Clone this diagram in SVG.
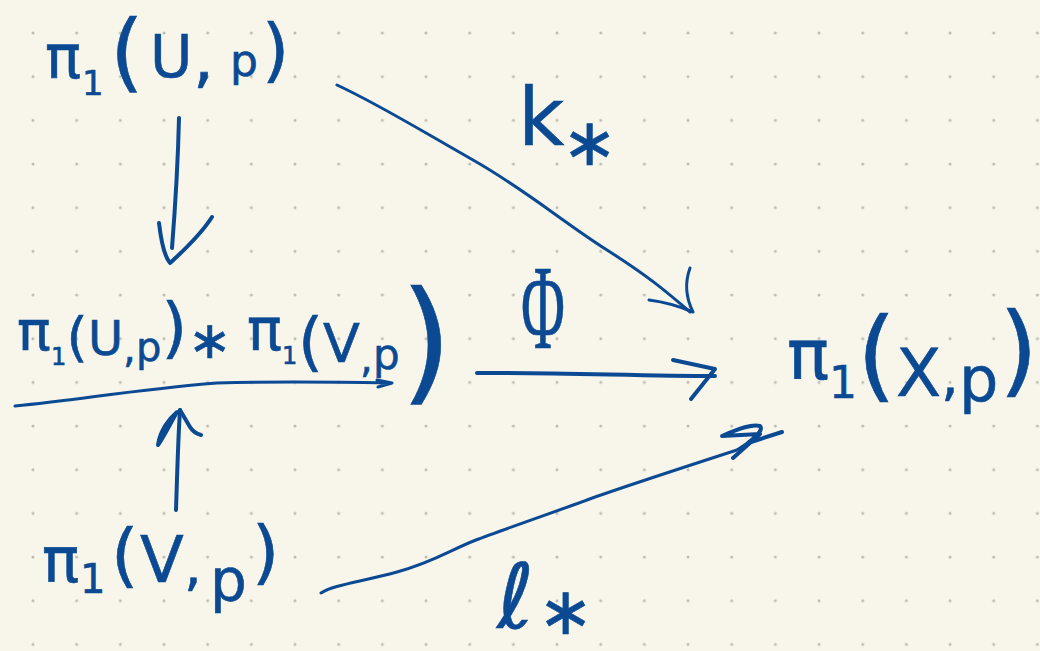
<svg xmlns="http://www.w3.org/2000/svg" width="1040" height="651" viewBox="0 0 1040 651">
  <defs>
    <pattern id="dots" patternUnits="userSpaceOnUse" x="11.17" y="11.17" width="43.67" height="43.67">
      <circle cx="21.83" cy="21.83" r="1.5" fill="#bdbbb2"/>
    </pattern>
  </defs>
  <style>
    .ink { fill: #0b4a93; font-family: "DejaVu Sans", "Liberation Sans", sans-serif; stroke: #0b4a93; stroke-width: 0.6; }
    .serif { font-family: "Liberation Serif", "DejaVu Serif", serif; }
    .line { fill: none; stroke: #0b4a93; stroke-width: 4; stroke-linecap: round; stroke-linejoin: round; }
    .thin { stroke-width: 3; }
  </style>
  <rect width="1040" height="651" fill="#f8f6eb"/>
  <rect width="1040" height="651" fill="url(#dots)"/>

  <g id="node-pi1-U">
    <text class="ink"><tspan x="45" y="78" font-size="60">π</tspan><tspan x="82" y="95" font-size="34">1</tspan><tspan x="110" y="81" font-size="86">(</tspan><tspan x="150" y="77" font-size="58">U</tspan><tspan x="193" y="80" font-size="66">,</tspan><tspan x="230" y="76" font-size="44">p</tspan><tspan x="262" y="74" font-size="70">)</tspan></text>
  </g>

  <g id="node-free-product">
    <text class="ink"><tspan x="17" y="350" font-size="56">π</tspan><tspan x="51" y="365" font-size="24">1</tspan><tspan x="66.5" y="356" font-size="54">(</tspan><tspan x="88" y="355" font-size="48">U</tspan><tspan x="123" y="362" font-size="40">,</tspan><tspan x="136" y="361" font-size="40">p</tspan><tspan x="161.5" y="350" font-size="66">)</tspan><tspan x="188" y="358" font-size="52">∗</tspan><tspan x="247" y="350" font-size="58">π</tspan><tspan x="282" y="364" font-size="24">1</tspan><tspan x="298" y="364" font-size="64">(</tspan><tspan x="323" y="362" font-size="54">V</tspan><tspan x="360" y="372" font-size="40">,</tspan><tspan x="373" y="369" font-size="42">p</tspan><tspan x="400" y="387" font-size="134">)</tspan></text>
    <path class="line thin" d="M15,406 C80,400 130,390 217,383 C280,381 340,382 390,383 M377,380 L392,383 L378,387"/>
  </g>

  <g id="node-pi1-V">
    <text class="ink"><tspan x="42" y="582" font-size="62">π</tspan><tspan x="80" y="593" font-size="40">1</tspan><tspan x="111" y="579" font-size="70">(</tspan><tspan x="140" y="582" font-size="64">V</tspan><tspan x="184" y="585" font-size="56">,</tspan><tspan x="210" y="601" font-size="58">p</tspan><tspan x="252" y="576" font-size="70">)</tspan></text>
  </g>

  <g id="node-pi1-X">
    <text class="ink"><tspan x="787" y="379" font-size="70">π</tspan><tspan x="829" y="398" font-size="44">1</tspan><tspan x="857" y="389" font-size="100">(</tspan><tspan x="896" y="396" font-size="66">X</tspan><tspan x="941" y="395" font-size="56">,</tspan><tspan x="959" y="401" font-size="62">p</tspan><tspan x="999" y="384" font-size="100">)</tspan></text>
  </g>

  <g id="connectors">
    <path class="line" d="M179,118 C178,160 175,210 172,248"/>
    <path class="line" d="M159,223 C161,240 164,256 170,263 C182,252 200,236 212,217"/>
    <path class="line" d="M176,510 C177,480 178,440 180,410"/>
    <path class="line" d="M158,445 C160,430 170,418 177,412 C168,428 162,440 158,445 M180,410 L190,427 C193,432 197,434 201,435"/>
    <path class="line" d="M477,373 C550,372 640,376 715,376"/>
    <path class="line" d="M673,360 L715,369 L691,399"/>
    <path class="line thin" d="M337,85 C380,105 420,130 473,160 S560,220 607,250 S670,295 690,312"/>
    <path class="line thin" d="M690,268 Q682,290 693,312 M649,300 Q672,303 693,312"/>
    <path class="line thin" d="M321,593 C333,585 360,582 397,572 S450,550 476,540 S560,510 587,500 S700,462 737,450 L758,436"/>
    <path class="line" d="M733,458 L760,434 L722,436 C740,428 752,424 760,426 C764,430 754,438 748,443 L782,432"/>
  </g>

  <g id="labels">
    <text class="ink" font-size="80"><tspan x="518" y="145">k</tspan><tspan x="562" y="165" font-size="66">∗</tspan></text>
    <text class="ink serif" font-size="120" text-anchor="middle" transform="translate(543,348) scale(0.5,1)" x="0" y="0">Φ</text>
    <text class="ink" font-size="90"><tspan x="497" y="628">ℓ</tspan><tspan x="538" y="634" font-size="66">∗</tspan></text>
  </g>
</svg>
